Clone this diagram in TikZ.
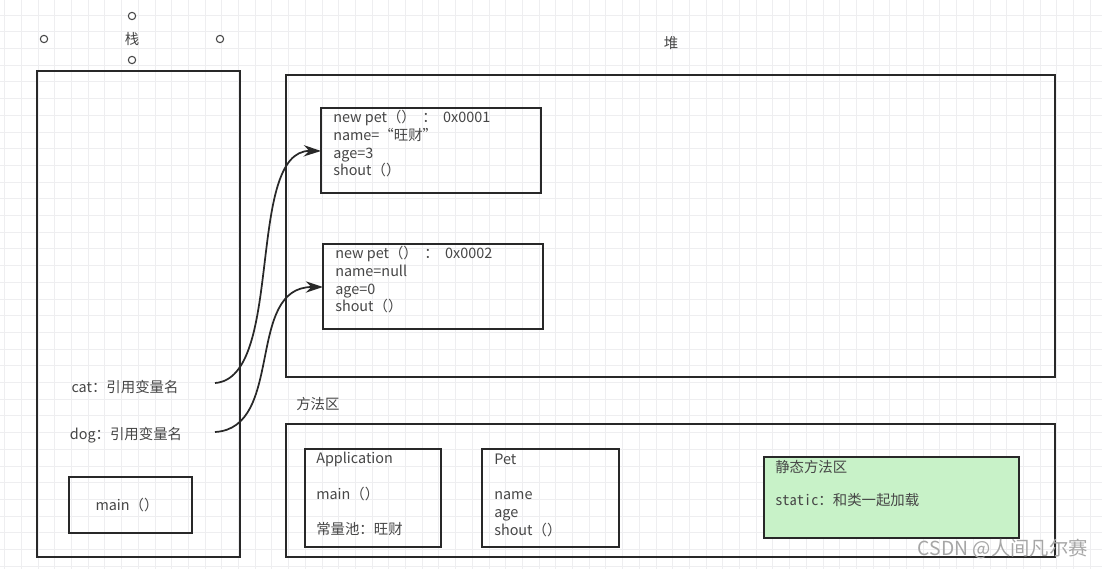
\documentclass[tikz,border=0pt]{standalone}
\usepackage{fontspec}
\setmainfont{Noto Sans CJK SC}
\newfontfamily\monocjk{Noto Sans Mono CJK SC}
\usetikzlibrary{arrows.meta}
\definecolor{gridc}{RGB}{238,238,240}
\definecolor{linec}{RGB}{40,40,40}
\definecolor{textc}{RGB}{70,70,70}
\definecolor{staticfill}{RGB}{200,242,200}
\tikzset{
  box/.style={draw=linec, line width=1.4pt},
  txt/.style={text=textc, font=\fontsize{10.8}{13.3}\selectfont, inner sep=0pt, anchor=west},
  lines/.style={text=textc, font=\fontsize{10.8}{13.3}\selectfont, inner sep=0pt, anchor=north west, align=left},
  handle/.style={draw=textc, line width=0.8pt, fill=white, circle, inner sep=0pt, minimum size=5.5pt},
  ref/.style={draw=linec, line width=1.3pt, -{Stealth[length=13pt,width=8.5pt]}},
}
\begin{document}
\begin{tikzpicture}[x=0.75pt,y=-0.75pt]
\useasboundingbox (0,0) rectangle (1102,569);
\fill[white] (0,0) rectangle (1102,569);
% faint grid
\foreach \i in {0,...,66} {
  \draw[gridc, line width=0.6pt] ({4.6+16.7*\i},0) -- ({4.6+16.7*\i},569);
}
\foreach \j in {0,...,34} {
  \draw[gridc, line width=0.6pt] (0,{15+16.7*\j}) -- (1102,{15+16.7*\j});
}
% stack
\node[txt, anchor=center] (stacklabel) at (132,39) {栈};
\node[handle] (h1) at (132,16) {};
\node[handle] (h2) at (44,39) {};
\node[handle] (h3) at (220,39) {};
\node[handle] (h4) at (132,60) {};
\draw[box] (37,71) rectangle (240,557);
\node[box, minimum width=92pt, minimum height=42pt, inner sep=0pt] (mainbox) at (130.5,505) {};
\node[txt, anchor=center] at (127,505) {main（）};
\node[txt, anchor=center] (cat) at (125,387) {cat：引用变量名};
\node[txt, anchor=center] (dog) at (126,435) {dog：引用变量名};
\coordinate (catend) at (215,383);
\coordinate (dogend) at (215,432);
% heap
\node[txt, anchor=center] (heaplabel) at (671,43) {堆};
\draw[box] (286,75) rectangle (1055,377);
\draw[box] (321,108) rectangle (541,193);
\coordinate (obj1) at (321,151);
\node[lines] (o1) at (333,110) {new pet（）\ \ ：\ \ 0x0001\\name=“旺财”\\age=3\\shout（）};
\draw[box] (323,244) rectangle (543,329);
\coordinate (obj2) at (323,287);
\node[lines] (o2) at (335,246) {new pet（）\ \ ：\ \ 0x0002\\name=null\\age=0\\shout（）};
% references
\draw[ref] (catend) .. controls (285,378) and (245,150) .. (obj1);
\draw[ref] (dogend) .. controls (285,428) and (245,287) .. (obj2);
% method area
\node[txt] (methodlabel) at (296,404) {方法区};
\draw[box] (286,424) rectangle (1055,557);
\draw[box] (305,449) rectangle (441,547);
\node[txt] (app1) at (316,459) {Application};
\node[txt] (app2) at (316,494) {main（）};
\node[txt] (app3) at (316,529) {常量池：旺财};
\draw[box] (482,449) rectangle (619,547);
\node[txt] (pet1) at (494,459) {Pet};
\node[lines] (pet2) at (494,491.5) {name\\age\\shout（）};
\draw[box, fill=staticfill] (764,457) rectangle (1019,538);
\node[txt] (st1) at (775,467) {静态方法区};
\node[txt] (st2) at (775,500) {{\monocjk static：}和类一起加载};
% watermark
\node[txt, anchor=east, text=gray!70, font=\fontsize{14.5}{16}\selectfont] (wm) at (1088,549) {CSDN @人间凡尔赛};
\end{tikzpicture}
\end{document}
